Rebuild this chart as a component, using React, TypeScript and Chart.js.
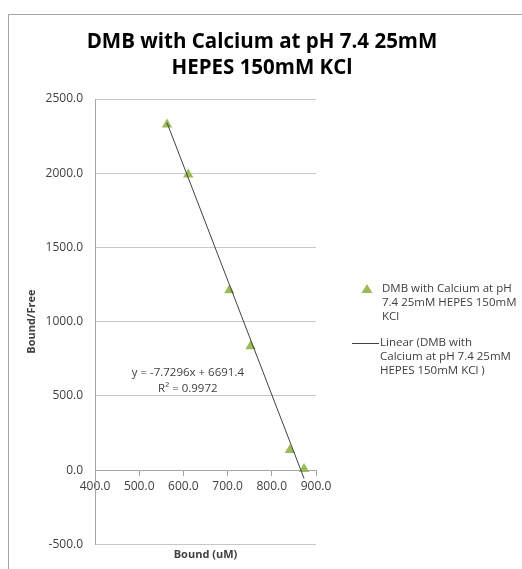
import React, { useEffect, useRef } from 'react';
import { Chart, registerables } from 'chart.js';

Chart.register(...registerables);

const titleLines = ['DMB with Calcium at pH 7.4 25mM', 'HEPES 150mM KCl'];
const boundValues = [563, 611, 704, 752, 841, 873];
const boundFreeValues = [2328, 1991, 1212, 835, 135, 8];
const trendSlope = -7.7296;
const trendIntercept = 6691.4;
const rSquared = 0.9972;
const xTickValues = [400, 500, 600, 700, 800, 900];
const yTickValues = [-500, 0, 500, 1000, 1500, 2000, 2500];
const seriesLegend = ['DMB with Calcium at pH', '7.4 25mM HEPES 150mM', 'KCl'];
const trendLegend = ['Linear (DMB with', 'Calcium at pH 7.4 25mM', 'HEPES 150mM KCl )'];
const xAxisTitle = 'Bound (uM)';
const yAxisTitle = 'Bound/Free';

const FONT = '"Open Sans", "DejaVu Sans", sans-serif';
const TEXT = '#404040';
const GREEN = '#9BBB59';

const extrasPlugin = {
  id: 'extras',
  beforeDraw(chart: any) {
    const ctx = chart.ctx;
    ctx.save();
    ctx.strokeStyle = '#a6a6a6';
    ctx.lineWidth = 1;
    ctx.strokeRect(8.5, 14.5, 700, 700);
    ctx.restore();
  },
  afterDraw(chart: any) {
    const ctx = chart.ctx;
    const xs = chart.scales.x;
    const ys = chart.scales.y;
    ctx.save();
    // title
    ctx.fillStyle = '#000';
    ctx.textAlign = 'center';
    ctx.textBaseline = 'middle';
    ctx.font = `bold 20.5px ${FONT}`;
    titleLines.forEach((t, i) => ctx.fillText(t, 262, 42 + i * 26));
    // trendline label
    ctx.font = `11.5px ${FONT}`;
    ctx.fillStyle = TEXT;
    const ex = xs.getPixelForValue(610);
    const ey = ys.getPixelForValue(654);
    const sign = trendIntercept >= 0 ? '+ ' : '- ';
    ctx.fillText(`y = ${trendSlope}x ${sign}${Math.abs(trendIntercept)}`, ex, ey);
    ctx.fillText(`R² = ${rSquared}`, ex, ey + 16);
    // legend
    ctx.textAlign = 'left';
    const lx = 382;
    let ly = 289;
    ctx.fillStyle = GREEN;
    ctx.beginPath();
    ctx.moveTo(367, ly - 5);
    ctx.lineTo(372.5, ly + 4);
    ctx.lineTo(361.5, ly + 4);
    ctx.closePath();
    ctx.fill();
    ctx.fillStyle = TEXT;
    seriesLegend.forEach((t, i) => ctx.fillText(t, lx, ly + i * 14));
    ly = 343;
    ctx.strokeStyle = '#404040';
    ctx.lineWidth = 1;
    ctx.beginPath();
    ctx.moveTo(352, ly + 0.5);
    ctx.lineTo(379, ly + 0.5);
    ctx.stroke();
    trendLegend.forEach((t, i) => ctx.fillText(t, lx - 2, ly + i * 14));
    ctx.restore();
  },
};

export default function App() {
  const ref = useRef<HTMLCanvasElement>(null);
  useEffect(() => {
    if (!ref.current) return;
    const xMin = Math.min(...boundValues);
    const xMax = Math.max(...boundValues);
    const trendData = [xMin, xMax].map((x) => ({ x, y: trendSlope * x + trendIntercept }));
    const chart = new Chart(ref.current, {
      type: 'scatter',
      data: {
        datasets: [
          {
            type: 'line',
            label: 'Linear',
            data: trendData,
            borderColor: '#404040',
            borderWidth: 1,
            pointRadius: 0,
            fill: false,
            order: 0,
          } as any,
          {
            label: 'DMB with Calcium at pH 7.4 25mM HEPES 150mM KCl',
            data: boundValues.map((x, i) => ({ x, y: boundFreeValues[i] })),
            pointStyle: 'triangle',
            pointRadius: 6,
            backgroundColor: GREEN,
            borderColor: GREEN,
            borderWidth: 0,
            order: 1,
          },
        ],
      },
      options: {
        responsive: true,
        maintainAspectRatio: false,
        animation: false,
        layout: { padding: { left: 21, right: 206, top: 99, bottom: 3.5 } },
        plugins: {
          legend: { display: false },
          tooltip: { enabled: false },
          title: { display: false },
        },
        scales: {
          x: {
            type: 'linear',
            min: xTickValues[0],
            max: xTickValues[xTickValues.length - 1],
            position: { y: 0 } as any,
            afterBuildTicks: (s: any) => {
              s.ticks = xTickValues.map((v) => ({ value: v }));
            },
            ticks: {
              color: TEXT,
              font: { family: FONT, size: 12 },
              padding: 4,
              maxRotation: 0,
              autoSkip: false,
              callback: (v: any) => Number(v).toFixed(1),
            },
            grid: { drawOnChartArea: false, drawTicks: true, tickLength: 5, color: '#a6a6a6' },
            border: { display: true, color: '#a6a6a6' },
          },
          x2: {
            type: 'linear',
            axis: 'x',
            position: 'bottom',
            min: 400,
            max: 900,
            ticks: { display: false },
            grid: { display: false, drawTicks: false },
            border: { display: false },
            title: {
              display: true,
              text: xAxisTitle,
              color: TEXT,
              font: { family: FONT, size: 11, weight: 'bold' },
            },
          } as any,
          y: {
            type: 'linear',
            min: yTickValues[0],
            max: yTickValues[yTickValues.length - 1],
            afterBuildTicks: (s: any) => {
              s.ticks = yTickValues.map((v) => ({ value: v }));
            },
            afterFit: (s: any) => {
              s.width = 74;
            },
            ticks: {
              color: TEXT,
              font: { family: FONT, size: 12 },
              padding: 12,
              callback: (v: any) => Number(v).toFixed(1),
            },
            grid: { color: '#c8c8c8', drawTicks: false },
            border: { display: true, color: '#a6a6a6' },
            title: {
              display: true,
              text: yAxisTitle,
              color: TEXT,
              font: { family: FONT, size: 11, weight: 'bold' },
            },
          },
        },
      },
      plugins: [extrasPlugin],
    });
    return () => chart.destroy();
  }, []);
  return (
    <div style={{ position: 'fixed', left: 0, top: 0, width: 522, height: 569, background: '#fff' }}>
      <canvas ref={ref} />
    </div>
  );
}
